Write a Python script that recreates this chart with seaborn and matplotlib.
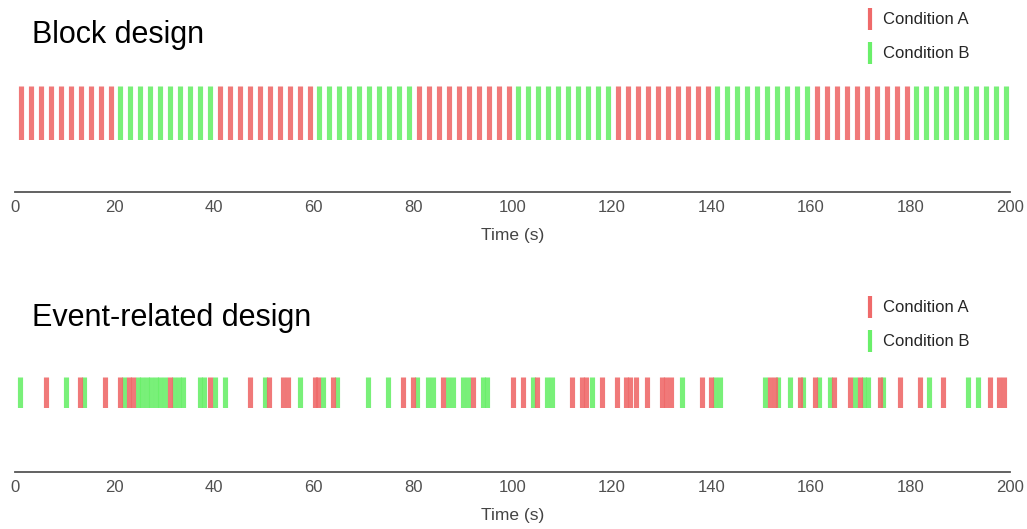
import matplotlib
matplotlib.use("Agg")
import matplotlib.pyplot as plt
from matplotlib.lines import Line2D
import pandas as pd
import seaborn as sns

# block design: 10 blocks of 20 s, one stimulus every 2 s
block_starts = [0, 20, 40, 60, 80, 100, 120, 140, 160, 180]
block_conditions = ["A", "B", "A", "B", "A", "B", "A", "B", "A", "B"]
trials_per_block = 10
trial_gap = 2.0
first_trial = 1.2

# event-related design: onsets (s)
event_a = [6.2, 13.1, 18.1, 21.1, 22.9, 23.7, 31.2, 39.2, 47.2, 51.1, 53.9, 54.9,
           60.3, 60.9, 63.9, 78.0, 80.0, 86.0, 92.1, 100.1, 102.1, 104.9, 112.0,
           114.0, 114.8, 118.0, 121.0, 122.8, 123.6, 124.8, 127.0, 130.1, 130.9,
           131.9, 138.1, 139.9, 151.8, 152.8, 157.8, 160.8, 164.6, 167.8, 169.8,
           173.9, 177.9, 181.9, 186.5, 196.0, 197.8, 198.8]
event_b = [1.0, 10.3, 13.9, 21.9, 24.7, 25.5, 26.5, 27.3, 28.3, 29.1, 30.2, 32.0,
           33.0, 33.8, 37.2, 38.0, 40.2, 42.2, 50.3, 57.3, 61.9, 64.7, 71.0, 75.0,
           80.8, 83.0, 84.0, 87.0, 88.0, 90.1, 91.1, 94.1, 94.9, 104.1, 106.9,
           107.9, 116.0, 134.1, 140.7, 141.7, 150.8, 153.4, 155.8, 158.4, 161.6,
           163.8, 168.8, 170.7, 171.5, 174.5, 183.7, 191.6, 193.6]

tick_values = [0, 20, 40, 60, 80, 100, 120, 140, 160, 180, 200]
colors = {"A": "#ef6a6a", "B": "#6aef6a"}
labels = {"A": "Condition A", "B": "Condition B"}

sns.set_style("white")
plt.rcParams["font.family"] = ["Liberation Sans", "DejaVu Sans"]

rows = []
for start, cond in zip(block_starts, block_conditions):
    for k in range(trials_per_block):
        rows.append((start + first_trial + k * trial_gap, cond))
block_df = pd.DataFrame(rows, columns=["time", "cond"])
event_df = pd.DataFrame({"time": event_b + event_a,
                         "cond": ["B"] * len(event_b) + ["A"] * len(event_a)})

W, H = 1027, 529
fig = plt.figure(figsize=(W / 100, H / 100), dpi=100)


def px_axes(x0, x1, y0, y1):
    return fig.add_axes([x0 / W, 1 - y1 / H, (x1 - x0) / W, (y1 - y0) / H])


def draw_panel(ax, df, spine_px, title, title_y, legend_y):
    sns.rugplot(data=df, x="time", hue="cond", palette=colors, height=1,
                linewidth=3.7, alpha=0.9, legend=False, expand_margins=False, ax=ax)
    ax.set_xlim(0, 200)
    ax.set_ylim(0, 1)
    ax.set_yticks([])
    ax.set_xticks(tick_values)
    sns.despine(ax=ax, left=True)
    ax.spines["bottom"].set_position(("outward", spine_px * 0.72))
    ax.spines["bottom"].set_color("#555555")
    ax.spines["bottom"].set_linewidth(1.3)
    ax.tick_params(axis="x", direction="in", length=5, width=1.2, color="#555555",
                   labelcolor="#505050", labelsize=12, pad=6)
    ax.set_xlabel("Time (s)", fontsize=12.5, color="#444444", labelpad=9)
    fig.text(32 / W, 1 - title_y / H, title, fontsize=22, va="center", color="black")
    for i, cond in enumerate(["A", "B"]):
        y = legend_y + i * 34
        fig.add_artist(Line2D([870 / W, 870 / W], [1 - (y - 11) / H, 1 - (y + 11) / H],
                              color=colors[cond], lw=3.0, solid_capstyle="butt"))
        fig.text(883 / W, 1 - y / H, labels[cond], fontsize=12, va="center")


ax1 = px_axes(15, 1010, 86, 140)
draw_panel(ax1, block_df, 52, "Block design", 35, 19)

ax2 = px_axes(15, 1010, 377, 408)
draw_panel(ax2, event_df, 64, "Event-related design", 318, 307)

fig.savefig("out.png", dpi=100)
